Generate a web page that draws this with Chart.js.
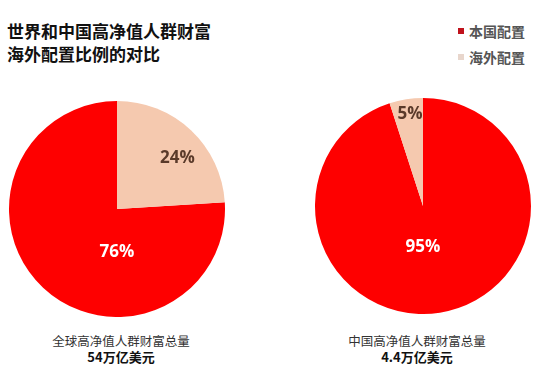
<!DOCTYPE html>
<html><head><meta charset="utf-8">
<script src="https://cdn.jsdelivr.net/npm/chart.js@4/dist/chart.umd.min.js"></script>
<style>
html,body{margin:0;padding:0;background:#fff;width:543px;height:387px;overflow:hidden;position:relative;font-family:"Noto Sans CJK SC","Noto Sans",sans-serif;}
.abs{position:absolute;white-space:nowrap;}
#title{left:7px;top:19px;font-size:17px;font-weight:bold;color:#111;line-height:23px;}
.leg{font-size:14px;font-weight:bold;color:#555;line-height:20px;}
.sq{display:inline-block;width:6px;height:6px;margin-right:5px;vertical-align:middle;position:relative;top:-2px;}
.cap{font-size:12.5px;color:#333;line-height:16px;text-align:center;width:220px;}
.cap b{font-size:13px;color:#111;}
canvas{display:block;}
</style></head><body>
<div id="title" class="abs"></div>
<div id="legend" class="abs" style="left:458px;top:21px;"></div>
<div class="abs" style="left:9px;top:101px;width:216px;height:216px;"><canvas id="c1" width="216" height="216"></canvas></div>
<div class="abs" style="left:315px;top:98px;width:216px;height:216px;"><canvas id="c2" width="216" height="216"></canvas></div>
<div id="cap1" class="abs cap" style="left:11px;top:333px;"></div>
<div id="cap2" class="abs cap" style="left:307px;top:333px;"></div>
<script>
// ---- data ----
const titleLines = ["世界和中国高净值人群财富", "海外配置比例的对比"];
const categories = ["本国配置", "海外配置"];
const worldShares = [76, 24];
const chinaShares = [95, 5];
const worldCaption = ["全球高净值人群财富总量", "54万亿美元"];
const chinaCaption = ["中国高净值人群财富总量", "4.4万亿美元"];

// ---- styles ----
const sliceColors = ["#FE0000", "#F5C9AF"];
const legendColors = ["#C0121C", "#E8D6CC"];
const labelColors = ["#FFFFFF", "#5A3A2A"];

document.getElementById('title').innerHTML = titleLines.join('<br>');
document.getElementById('legend').innerHTML = categories.map((c,i)=>
  '<div class="leg"><span class="sq" style="background:'+legendColors[i]+'"></span>'+c+'</div>').join('<div style="height:6px"></div>');
document.getElementById('cap1').innerHTML = worldCaption[0] + '<br><b>' + worldCaption[1] + '</b>';
document.getElementById('cap2').innerHTML = chinaCaption[0] + '<br><b>' + chinaCaption[1] + '</b>';

const pctLabels = {
  id: 'pctLabels',
  afterDatasetsDraw(chart, args, opts) {
    const ctx = chart.ctx;
    const meta = chart.getDatasetMeta(0);
    const ds = chart.data.datasets[0];
    meta.data.forEach((arc, i) => {
      const pos = opts.positions[i];
      const a = (pos[0] - 90) * Math.PI / 180;
      const r = arc.outerRadius * pos[1];
      const x = arc.x + Math.cos(a) * r;
      const y = arc.y + Math.sin(a) * r;
      ctx.save();
      ctx.font = 'bold 17px "Open Sans", "Noto Sans", sans-serif';
      ctx.fillStyle = labelColors[i];
      ctx.textAlign = 'center';
      ctx.textBaseline = 'middle';
      ctx.fillText(ds.data[i] + '%', x, y);
      ctx.restore();
    });
  }
};

function makePie(id, values, positions) {
  return new Chart(document.getElementById(id), {
    type: 'pie',
    data: { labels: categories, datasets: [{ data: values, backgroundColor: sliceColors, borderWidth: 0 }] },
    options: {
      responsive: false, animation: false,
      rotation: values[1] * 3.6,
      layout: { padding: 0 },
      plugins: { legend: { display: false }, tooltip: { enabled: false }, pctLabels: { positions } }
    },
    plugins: [pctLabels]
  });
}
makePie('c1', worldShares, [[180, 0.40], [50, 0.73]]);
const c2 = new Chart(document.getElementById('c2'), {
  type: 'pie',
  data: { labels: categories, datasets: [{ data: chinaShares, backgroundColor: sliceColors, borderWidth: 0 }] },
  options: {
    responsive: false, animation: false, rotation: 0, layout: { padding: 0 },
    plugins: { legend: { display: false }, tooltip: { enabled: false }, pctLabels: { positions: [[180, 0.38], [352, 0.86]] } }
  },
  plugins: [pctLabels]
});
</script>
</body></html>
